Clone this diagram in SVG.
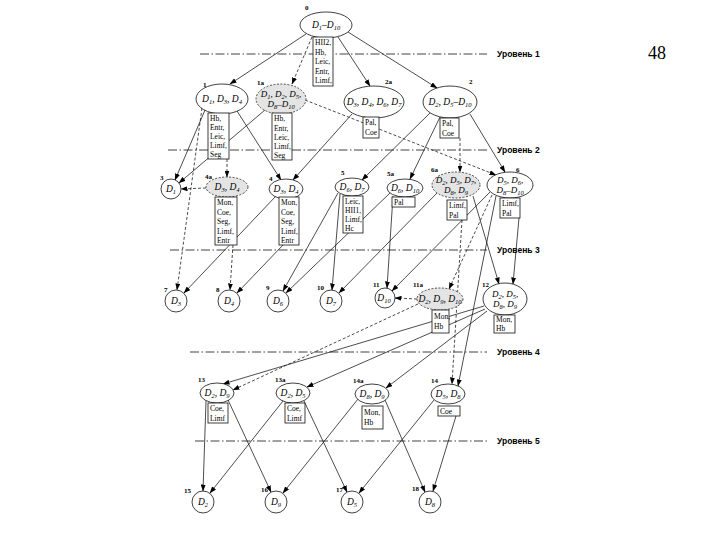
<svg xmlns="http://www.w3.org/2000/svg" width="720" height="540" viewBox="0 0 720 540">
<style>
.n{fill:#fff;stroke:#111;stroke-width:0.8}
.d{fill:#e4e4e4;stroke:#222;stroke-width:0.8;stroke-dasharray:2 1.5}
.b{fill:#fff;stroke:#111;stroke-width:0.8}
.t{font-family:"Liberation Serif",serif;font-style:italic;font-size:9.5px;text-anchor:middle;fill:#000}
.s{font-size:6.5px}
.bt{font-family:"Liberation Serif",serif;font-size:7.5px;fill:#000}
.lb{font-family:"Liberation Serif",serif;font-size:7px;font-weight:bold;fill:#000}
.e{stroke:#111;stroke-width:0.75;fill:none;marker-end:url(#a)}
.ed{stroke-dasharray:3 2}
.lvl{stroke:#111;stroke-width:0.8;stroke-dasharray:9 2.5 1.5 2.5;fill:none}
.lt{font-family:"Liberation Sans",sans-serif;font-size:8.5px;font-weight:bold;fill:#000}
.pg{font-family:"Liberation Serif",serif;font-size:18px;text-anchor:middle;fill:#000}
</style>
<defs>
<marker id="a" markerUnits="userSpaceOnUse" markerWidth="7" markerHeight="5" refX="6.5" refY="2.5" orient="auto">
<path d="M0,0 L7,2.5 L0,5 z" fill="#000"/>
</marker>
</defs>
<rect width="720" height="540" fill="#fff"/>
<text class="pg" x="657" y="59">48</text>

<g id="levels">
<line class="lvl" x1="200" y1="54" x2="487" y2="54"/>
<text class="lt" x="497" y="57">Уровень 1</text>
<line class="lvl" x1="168" y1="150" x2="487" y2="150"/>
<text class="lt" x="497" y="153">Уровень 2</text>
<line class="lvl" x1="170" y1="250" x2="487" y2="250"/>
<text class="lt" x="497" y="253">Уровень 3</text>
<line class="lvl" x1="190" y1="352" x2="487" y2="352"/>
<text class="lt" x="497" y="355">Уровень 4</text>
<line class="lvl" x1="195" y1="441" x2="487" y2="441"/>
<text class="lt" x="497" y="444">Уровень 5</text>
</g>

<g id="connectors">
<line class="e" x1="306" y1="34" x2="230" y2="84"/>
<line class="e ed" x1="312" y1="37" x2="292" y2="84"/>
<line class="e" x1="338" y1="37" x2="370" y2="86"/>
<line class="e" x1="348" y1="32" x2="437" y2="88"/>
<line class="e" x1="205" y1="110" x2="175" y2="180"/>
<line class="e ed" x1="202" y1="108" x2="177" y2="290"/>
<line class="e ed" x1="227" y1="159" x2="227" y2="177"/>
<line class="e" x1="237" y1="111" x2="281" y2="180"/>
<line class="e" x1="265" y1="110" x2="179" y2="183"/>
<line class="e" x1="352" y1="114" x2="293" y2="180"/>
<line class="e ed" x1="305" y1="100" x2="496" y2="175"/>
<line class="e" x1="430" y1="113" x2="362" y2="180"/>
<line class="e" x1="440" y1="117" x2="410" y2="179"/>
<line class="e ed" x1="460" y1="138" x2="460" y2="172"/>
<line class="e" x1="470" y1="114" x2="505" y2="172"/>
<line class="e ed" x1="206" y1="188" x2="181" y2="189"/>
<line class="e" x1="276" y1="196" x2="184" y2="293"/>
<line class="e ed" x1="233" y1="245" x2="230" y2="290"/>
<line class="e" x1="283" y1="245" x2="237" y2="293"/>
<line class="e" x1="338" y1="193" x2="283" y2="291"/>
<line class="e" x1="390" y1="193" x2="286" y2="293"/>
<line class="e" x1="340" y1="194" x2="332" y2="290"/>
<line class="e" x1="393" y1="196" x2="387" y2="288"/>
<line class="e" x1="437" y1="193" x2="339" y2="293"/>
<line class="e" x1="473" y1="196" x2="499" y2="284"/>
<line class="e" x1="490" y1="192" x2="392" y2="291"/>
<line class="e ed" x1="492" y1="195" x2="449" y2="289"/>
<line class="e" x1="519" y1="218" x2="513" y2="284"/>
<line class="e" x1="496" y1="196" x2="458" y2="386"/>
<line class="e ed" x1="462" y1="220" x2="452" y2="384"/>
<line class="e ed" x1="417" y1="299" x2="395" y2="298"/>
<line class="e ed" x1="418" y1="304" x2="233" y2="390"/>
<line class="e" x1="484" y1="306" x2="223" y2="384"/>
<line class="e" x1="485" y1="309" x2="307" y2="387"/>
<line class="e" x1="487" y1="311" x2="386" y2="388"/>
<line class="e" x1="206" y1="401" x2="203" y2="491"/>
<line class="e" x1="228" y1="400" x2="271" y2="492"/>
<line class="e" x1="283" y1="401" x2="210" y2="493"/>
<line class="e" x1="304" y1="401" x2="347" y2="492"/>
<line class="e" x1="358" y1="399" x2="283" y2="493"/>
<line class="e" x1="385" y1="400" x2="425" y2="492"/>
<line class="e" x1="434" y1="400" x2="359" y2="493"/>
<line class="e" x1="456" y1="416" x2="433" y2="491"/>
</g>

<g id="n0">
<ellipse class="n" cx="326" cy="25" rx="26" ry="13"/>
<text class="lb" x="305" y="10">0</text>
<text class="t" x="326" y="28">D<tspan class="s" dy="2">1</tspan><tspan dy="-2">–D</tspan><tspan class="s" dy="2">10</tspan></text>
<rect class="b" x="313" y="37" width="20" height="49"/>
<text class="bt" x="315" y="45">HII2,</text><text class="bt" x="315" y="54.5">Hb,</text><text class="bt" x="315" y="64">Leic,</text><text class="bt" x="315" y="73.5">Entr,</text><text class="bt" x="315" y="83">Limf,</text>
</g>

<g id="n1">
<ellipse class="n" cx="222" cy="99" rx="26" ry="15"/>
<text class="lb" x="203" y="87">1</text>
<text class="t" x="222" y="102">D<tspan class="s" dy="2">1</tspan><tspan dy="-2">, D</tspan><tspan class="s" dy="2">3</tspan><tspan dy="-2">, D</tspan><tspan class="s" dy="2">4</tspan></text>
<rect class="b" x="208" y="113" width="21" height="46"/>
<text class="bt" x="210" y="121">Hb,</text><text class="bt" x="210" y="130">Entr,</text><text class="bt" x="210" y="139">Leic,</text><text class="bt" x="210" y="148">Limf,</text><text class="bt" x="210" y="157">Seg</text>
</g>

<g id="n1a">
<ellipse class="d" cx="281" cy="99" rx="25" ry="15"/>
<text class="lb" x="257" y="85">1a</text>
<text class="t" x="281" y="97" style="font-size:9px">D<tspan class="s" dy="2">1</tspan><tspan dy="-2">, D</tspan><tspan class="s" dy="2">2</tspan><tspan dy="-2">, D</tspan><tspan class="s" dy="2">5</tspan><tspan dy="-2">,</tspan></text>
<text class="t" x="281" y="107" style="font-size:9px">D<tspan class="s" dy="2">8</tspan><tspan dy="-2">–D</tspan><tspan class="s" dy="2">10</tspan></text>
<rect class="b" x="272" y="113" width="20" height="47"/>
<text class="bt" x="274" y="121">Hb,</text><text class="bt" x="274" y="130.5">Entr,</text><text class="bt" x="274" y="140">Leic,</text><text class="bt" x="274" y="149">Limf,</text><text class="bt" x="274" y="158">Seg</text>
</g>

<g id="n2a">
<ellipse class="n" cx="374" cy="102" rx="30" ry="16"/>
<text class="lb" x="385" y="84">2a</text>
<text class="t" x="374" y="105">D<tspan class="s" dy="2">3</tspan><tspan dy="-2">, D</tspan><tspan class="s" dy="2">4</tspan><tspan dy="-2">, D</tspan><tspan class="s" dy="2">6</tspan><tspan dy="-2">, D</tspan><tspan class="s" dy="2">7</tspan></text>
<rect class="b" x="363" y="117" width="16" height="21"/>
<text class="bt" x="365" y="125">Pal,</text><text class="bt" x="365" y="134.5">Coe</text>
</g>

<g id="n2">
<ellipse class="n" cx="450" cy="102" rx="27" ry="16"/>
<text class="lb" x="469" y="84">2</text>
<text class="t" x="450" y="105">D<tspan class="s" dy="2">2</tspan><tspan dy="-2">, D</tspan><tspan class="s" dy="2">5</tspan><tspan dy="-2">–D</tspan><tspan class="s" dy="2">10</tspan></text>
<rect class="b" x="440" y="118" width="19" height="20"/>
<text class="bt" x="442" y="126">Pal,</text><text class="bt" x="442" y="135.5">Coe</text>
</g>

<g id="n3">
<circle class="n" cx="171" cy="189" r="10"/>
<text class="lb" x="160" y="180">3</text>
<text class="t" x="171" y="192">D<tspan class="s" dy="2">1</tspan></text>
</g>

<g id="n4a">
<ellipse class="d" cx="227" cy="187" rx="21" ry="10"/>
<text class="lb" x="205" y="179">4a</text>
<text class="t" x="227" y="190">D<tspan class="s" dy="2">3</tspan><tspan dy="-2">, D</tspan><tspan class="s" dy="2">4</tspan></text>
<rect class="b" x="215" y="197" width="22" height="48"/>
<text class="bt" x="217" y="205">Mon,</text><text class="bt" x="217" y="214.5">Coe,</text><text class="bt" x="217" y="224">Seg,</text><text class="bt" x="217" y="233.5">Limf,</text><text class="bt" x="217" y="243">Entr</text>
</g>

<g id="n4">
<ellipse class="n" cx="286" cy="189" rx="17" ry="10"/>
<text class="lb" x="269" y="181">4</text>
<text class="t" x="286" y="192">D<tspan class="s" dy="2">3</tspan><tspan dy="-2">, D</tspan><tspan class="s" dy="2">4</tspan></text>
<rect class="b" x="279" y="197" width="20" height="48"/>
<text class="bt" x="281" y="205">Mon,</text><text class="bt" x="281" y="214.5">Coe,</text><text class="bt" x="281" y="224">Seg,</text><text class="bt" x="281" y="233.5">Limf,</text><text class="bt" x="281" y="243">Entr</text>
</g>

<g id="n5">
<ellipse class="n" cx="352" cy="187" rx="17" ry="9"/>
<text class="lb" x="341" y="175">5</text>
<text class="t" x="352" y="190">D<tspan class="s" dy="2">6</tspan><tspan dy="-2">, D</tspan><tspan class="s" dy="2">7</tspan></text>
<rect class="b" x="343" y="196" width="20" height="37"/>
<text class="bt" x="345" y="204">Leic,</text><text class="bt" x="345" y="213">HII1,</text><text class="bt" x="345" y="222">Limf,</text><text class="bt" x="345" y="231">Hc</text>
</g>

<g id="n5a">
<ellipse class="n" cx="405" cy="188" rx="18" ry="9"/>
<text class="lb" x="387" y="176">5a</text>
<text class="t" x="405" y="191">D<tspan class="s" dy="2">6</tspan><tspan dy="-2">, D</tspan><tspan class="s" dy="2">10</tspan></text>
<rect class="b" x="392" y="197" width="23" height="10"/>
<text class="bt" x="394" y="205">Pal</text>
</g>

<g id="n6a">
<ellipse class="d" cx="456" cy="185" rx="24" ry="13"/>
<text class="lb" x="431" y="172">6a</text>
<text class="t" x="456" y="183" style="font-size:9px">D<tspan class="s" dy="2">2</tspan><tspan dy="-2">, D</tspan><tspan class="s" dy="2">5</tspan><tspan dy="-2">, D</tspan><tspan class="s" dy="2">7</tspan><tspan dy="-2">,</tspan></text>
<text class="t" x="456" y="193" style="font-size:9px">D<tspan class="s" dy="2">8</tspan><tspan dy="-2">, D</tspan><tspan class="s" dy="2">9</tspan></text>
<rect class="b" x="447" y="200" width="20" height="20"/>
<text class="bt" x="449" y="208">Limf,</text><text class="bt" x="449" y="217.5">Pal</text>
</g>

<g id="n6">
<ellipse class="n" cx="510" cy="185" rx="23" ry="13"/>
<text class="lb" x="516" y="172">6</text>
<text class="t" x="510" y="183" style="font-size:9px">D<tspan class="s" dy="2">5</tspan><tspan dy="-2">, D</tspan><tspan class="s" dy="2">6</tspan><tspan dy="-2">,</tspan></text>
<text class="t" x="510" y="193" style="font-size:9px">D<tspan class="s" dy="2">8</tspan><tspan dy="-2">–D</tspan><tspan class="s" dy="2">10</tspan></text>
<rect class="b" x="500" y="198" width="20" height="20"/>
<text class="bt" x="502" y="206">Limf,</text><text class="bt" x="502" y="215.5">Pal</text>
</g>

<g id="n7">
<circle class="n" cx="176" cy="301" r="11"/>
<text class="lb" x="164" y="292">7</text>
<text class="t" x="176" y="304">D<tspan class="s" dy="2">3</tspan></text>
</g>
<g id="n8">
<circle class="n" cx="229" cy="301" r="11"/>
<text class="lb" x="216" y="292">8</text>
<text class="t" x="229" y="304">D<tspan class="s" dy="2">4</tspan></text>
</g>
<g id="n9">
<circle class="n" cx="278" cy="301" r="11"/>
<text class="lb" x="266" y="290">9</text>
<text class="t" x="278" y="304">D<tspan class="s" dy="2">6</tspan></text>
</g>
<g id="n10">
<circle class="n" cx="331" cy="301" r="11"/>
<text class="lb" x="317" y="290">10</text>
<text class="t" x="331" y="304">D<tspan class="s" dy="2">7</tspan></text>
</g>
<g id="n11">
<circle class="n" cx="385" cy="298" r="10"/>
<text class="lb" x="373" y="287">11</text>
<text class="t" x="384" y="301">D<tspan class="s" dy="2">10</tspan></text>
</g>

<g id="n11a">
<ellipse class="d" cx="440" cy="299" rx="23" ry="11"/>
<text class="lb" x="413" y="287">11a</text>
<text class="t" x="440" y="302">D<tspan class="s" dy="2">2</tspan><tspan dy="-2">, D</tspan><tspan class="s" dy="2">9</tspan><tspan dy="-2">, D</tspan><tspan class="s" dy="2">10</tspan></text>
<rect class="b" x="432" y="310" width="17" height="23"/>
<text class="bt" x="434" y="319">Mon,</text><text class="bt" x="434" y="329">Hb</text>
</g>

<g id="n12">
<ellipse class="n" cx="505" cy="299" rx="22" ry="16"/>
<text class="lb" x="482" y="287">12</text>
<text class="t" x="505" y="297" style="font-size:9px">D<tspan class="s" dy="2">2</tspan><tspan dy="-2">, D</tspan><tspan class="s" dy="2">5</tspan><tspan dy="-2">,</tspan></text>
<text class="t" x="505" y="307" style="font-size:9px">D<tspan class="s" dy="2">8</tspan><tspan dy="-2">, D</tspan><tspan class="s" dy="2">9</tspan></text>
<rect class="b" x="494" y="315" width="21" height="18"/>
<text class="bt" x="496" y="322">Mon,</text><text class="bt" x="496" y="331">Hb</text>
</g>

<g id="n13">
<ellipse class="n" cx="217" cy="393" rx="17" ry="10"/>
<text class="lb" x="198" y="382">13</text>
<text class="t" x="217" y="396">D<tspan class="s" dy="2">2</tspan><tspan dy="-2">, D</tspan><tspan class="s" dy="2">9</tspan></text>
<rect class="b" x="208" y="403" width="20" height="20"/>
<text class="bt" x="210" y="411">Coe,</text><text class="bt" x="210" y="420.5">Limf</text>
</g>

<g id="n13a">
<ellipse class="n" cx="293" cy="393" rx="17" ry="10"/>
<text class="lb" x="275" y="382">13a</text>
<text class="t" x="293" y="396">D<tspan class="s" dy="2">2</tspan><tspan dy="-2">, D</tspan><tspan class="s" dy="2">5</tspan></text>
<rect class="b" x="285" y="403" width="20" height="20"/>
<text class="bt" x="287" y="411">Coe,</text><text class="bt" x="287" y="420.5">Limf</text>
</g>

<g id="n14a">
<ellipse class="n" cx="372" cy="394" rx="17" ry="10"/>
<text class="lb" x="353" y="383">14a</text>
<text class="t" x="372" y="397">D<tspan class="s" dy="2">8</tspan><tspan dy="-2">, D</tspan><tspan class="s" dy="2">9</tspan></text>
<rect class="b" x="362" y="406" width="21" height="23"/>
<text class="bt" x="364" y="415">Mon,</text><text class="bt" x="364" y="425">Hb</text>
</g>

<g id="n14">
<ellipse class="n" cx="448" cy="394" rx="17" ry="10"/>
<text class="lb" x="431" y="383">14</text>
<text class="t" x="448" y="397">D<tspan class="s" dy="2">5</tspan><tspan dy="-2">, D</tspan><tspan class="s" dy="2">8</tspan></text>
<rect class="b" x="438" y="406" width="22" height="10"/>
<text class="bt" x="440" y="414">Coe</text>
</g>

<g id="n15">
<circle class="n" cx="203" cy="502" r="11"/>
<text class="lb" x="184" y="493">15</text>
<text class="t" x="203" y="505">D<tspan class="s" dy="2">2</tspan></text>
</g>
<g id="n16">
<circle class="n" cx="276" cy="502" r="11"/>
<text class="lb" x="261" y="492">16</text>
<text class="t" x="276" y="505">D<tspan class="s" dy="2">9</tspan></text>
</g>
<g id="n17">
<circle class="n" cx="352" cy="502" r="11"/>
<text class="lb" x="336" y="492">17</text>
<text class="t" x="352" y="505">D<tspan class="s" dy="2">5</tspan></text>
</g>
<g id="n18">
<circle class="n" cx="430" cy="502" r="11"/>
<text class="lb" x="412" y="491">18</text>
<text class="t" x="430" y="505">D<tspan class="s" dy="2">8</tspan></text>
</g>
</svg>
